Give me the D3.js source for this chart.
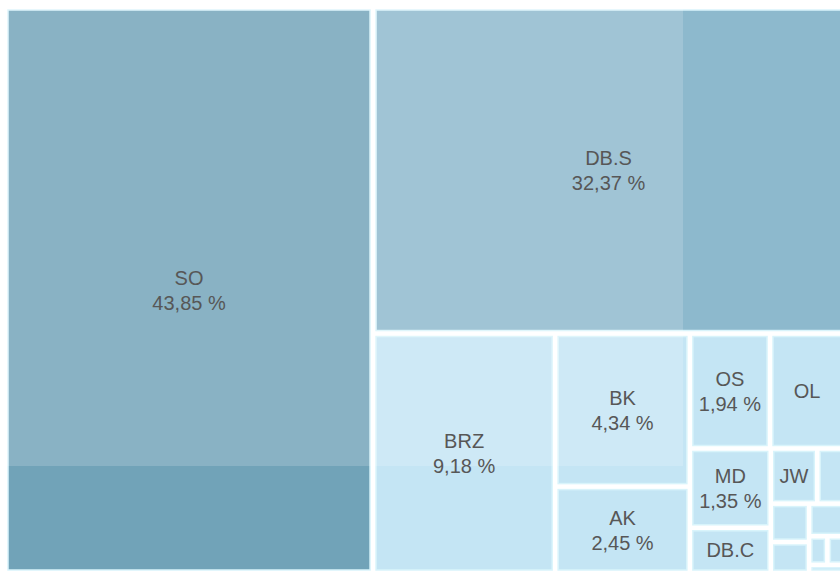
<!DOCTYPE html>
<html>
<head>
<meta charset="utf-8">
<script src="https://cdnjs.cloudflare.com/ajax/libs/d3/7.8.5/d3.min.js"></script>
<style>
body { margin: 0; background: #fff; }
svg { display: block; font-family: "Liberation Sans", Arial, sans-serif; }
.lbl { fill: #575757; font-size: 20px; }
</style>
</head>
<body>
<svg width="840" height="573"></svg>
<script>
// shares in percent (the small unlabeled ones are estimates)
var names  = ["SO", "DB.S", "BRZ", "BK", "AK", "OS", "OL", "MD", "DB.C", "JW",
              "S1", "S2", "S3", "S4", "S5", "S6", "S7"];
var shares = [43.85, 32.37, 9.18, 4.34, 2.45, 1.94, 1.79, 1.35, 0.77, 0.54,
              0.31, 0.31, 0.25, 0.24, 0.11, 0.10, 0.06];

var svg = d3.select("svg");
var W = 833, H = 560;
var g = svg.append("g").attr("transform", "translate(8,10)");

var de = d3.formatLocale({decimal: ",", thousands: ".", grouping: [3], currency: ["", " €"]});
var pct = de.format(".2f");

// darker blue for the big blocks, light blue for the rest
var color = d3.scaleThreshold()
  .domain([20, 40])
  .range(["#c4e5f4", "#8db9cd", "#71a3b8"]);

var root = d3.hierarchy({children: names.map(function(n, i) {
    return {name: n, value: shares[i]};
  })})
  .sum(function(d) { return d.value; })
  .sort(function(a, b) { return b.value - a.value; });

d3.treemap()
  .tile(d3.treemapSquarify.ratio(1))
  .size([W, H])
  .paddingInner(6)(root);

var leaves = root.leaves();

g.selectAll("rect.cell")
  .data(leaves)
  .enter().append("rect")
  .attr("class", "cell")
  .attr("x", function(d) { return d.x0; })
  .attr("y", function(d) { return d.y0; })
  .attr("width", function(d) { return d.x1 - d.x0; })
  .attr("height", function(d) { return d.y1 - d.y0; })
  .attr("fill", function(d) { return color(d.data.value); })
  .attr("stroke", "#d9f4fb")
  .attr("stroke-width", 1.5);

// pale highlight layer seen over the upper left part of the source
g.append("rect")
  .attr("x", -8).attr("y", -10)
  .attr("width", 683).attr("height", 466)
  .attr("fill", "#fff")
  .attr("opacity", 0.17);

// labels: name, plus share if it fits
leaves.forEach(function(d) {
  var w = d.x1 - d.x0, h = d.y1 - d.y0;
  var cx = (d.x0 + d.x1) / 2, cy = (d.y0 + d.y1) / 2;
  var t = g.append("text").attr("class", "lbl")
    .attr("text-anchor", "middle")
    .attr("x", cx);
  var a = t.append("tspan").attr("x", cx).text(d.data.name);
  if (a.node().getComputedTextLength() > w - 8 || h < 26) { t.remove(); return; }
  var b = t.append("tspan").attr("x", cx).attr("dy", 25).text(pct(d.data.value) + " %");
  if (b.node().getComputedTextLength() > w - 10 || h < 54) {
    b.remove();
    t.attr("y", cy + 7);
  } else {
    t.attr("y", cy - 5);
  }
});
</script>
</body>
</html>
